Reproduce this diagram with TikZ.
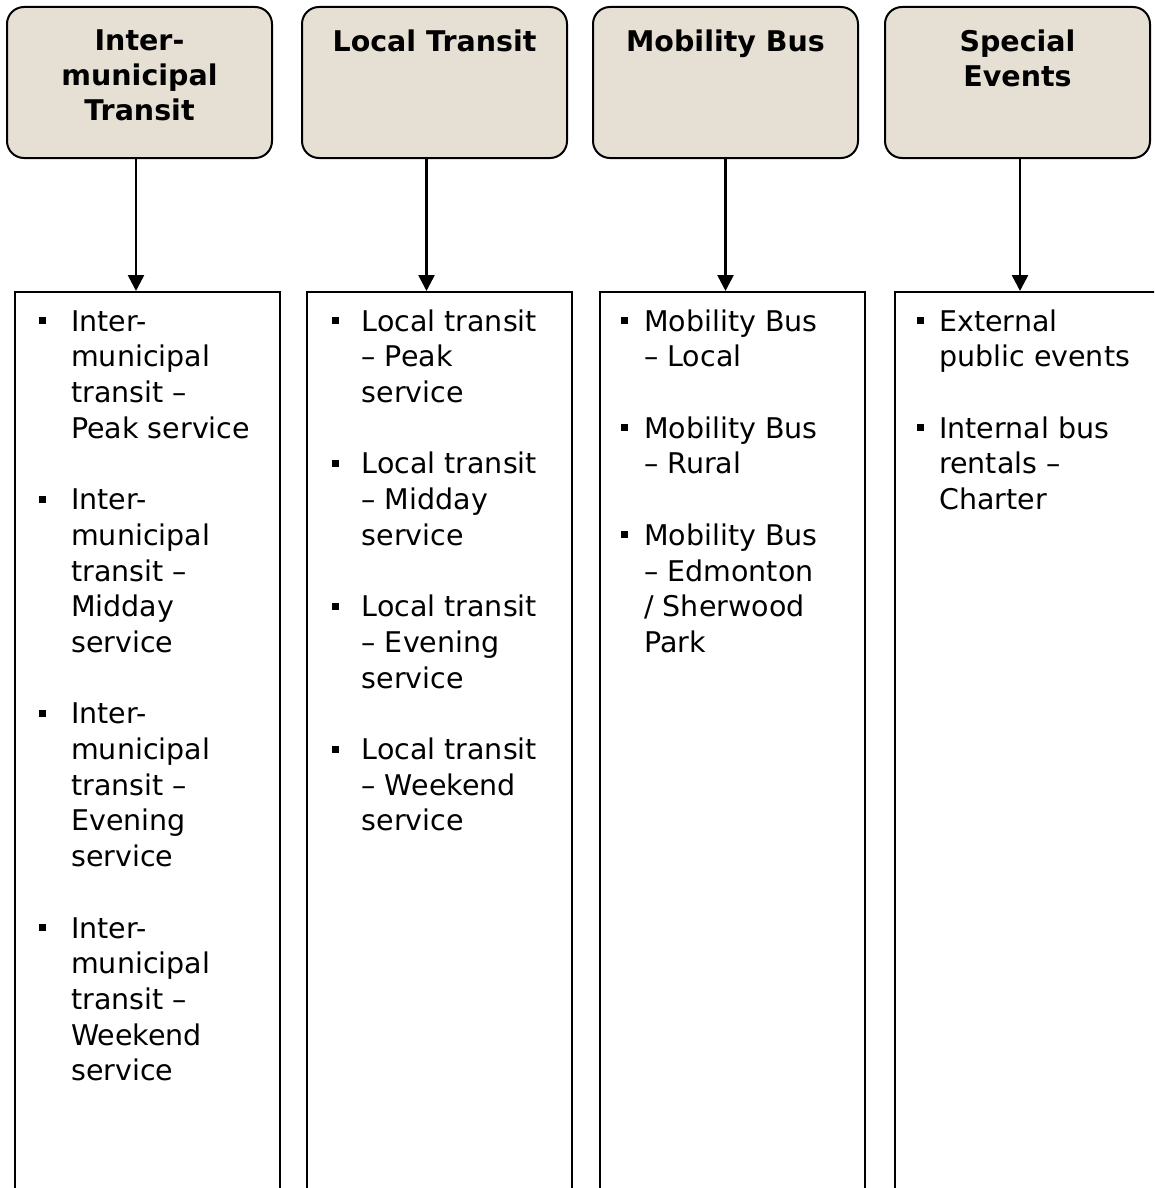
\documentclass[tikz,border=0pt]{standalone}
\usepackage{fontspec}
\setmainfont{DejaVu Sans}
\usetikzlibrary{arrows.meta}
\definecolor{headfill}{RGB}{230,223,212}
\newcommand{\BUL}{\rule[7pt]{7pt}{7pt}}
\newcommand{\HEADBOX}[3]{
  \node[headbox] (#1) at (#2,82.5) {};
  \node[headtext] (#1-txt) at ([yshift=-23.5pt]#1.north) {#3};
}
\newcommand{\LISTBOX}[5]{
  \node[listbox] (#1) at (#2,760) {};
  \node[listtext] (#1-txt) at ([xshift=#3,yshift=-15pt]#1.north west)
    {\begin{tabular}{@{}p{#4}@{}l@{}}#5\end{tabular}};
}

\begin{document}
\begin{tikzpicture}[x=1pt,y=-1pt,
    headbox/.style={draw, line width=2pt, rounded corners=17pt, fill=headfill,
      minimum width=265pt, minimum height=151pt, inner sep=0pt},
    headtext/.style={anchor=north, align=center, inner sep=0pt,
      font=\bfseries\fontsize{28.5}{35}\selectfont},
    listbox/.style={draw, line width=2pt, minimum width=265pt,
      minimum height=936pt, inner sep=0pt},
    listtext/.style={anchor=north west, inner sep=0pt,
      font=\fontsize{28.5}{35.7}\selectfont},
    arr/.style={line width=2.6pt, -{Triangle[width=16pt,length=16pt]}}]
  \useasboundingbox (0,0) rectangle (1154,1188);
  \clip (0,0) rectangle (1154,1188);

  \HEADBOX{h1}{139.5}{Inter-\\municipal\\Transit}
  \HEADBOX{h2}{434.5}{Local Transit}
  \HEADBOX{h3}{725.5}{Mobility Bus}
  \HEADBOX{h4}{1017.5}{Special\\Events}

  \LISTBOX{l1}{147.5}{25pt}{32pt}{
    \BUL & Inter-\\ & municipal\\ & transit –\\ & Peak service\\[35.7pt]
    \BUL & Inter-\\ & municipal\\ & transit –\\ & Midday\\ & service\\[35.7pt]
    \BUL & Inter-\\ & municipal\\ & transit –\\ & Evening\\ & service\\[35.7pt]
    \BUL & Inter-\\ & municipal\\ & transit –\\ & Weekend\\ & service}
  \LISTBOX{l2}{439}{26pt}{30pt}{
    \BUL & Local transit\\ & – Peak\\ & service\\[35.7pt]
    \BUL & Local transit\\ & – Midday\\ & service\\[35.7pt]
    \BUL & Local transit\\ & – Evening\\ & service\\[35.7pt]
    \BUL & Local transit\\ & – Weekend\\ & service}
  \LISTBOX{l3}{732.5}{22pt}{23pt}{
    \BUL & Mobility Bus\\ & – Local\\[35.7pt]
    \BUL & Mobility Bus\\ & – Rural\\[35.7pt]
    \BUL & Mobility Bus\\ & – Edmonton\\ & / Sherwood\\ & Park}
  \LISTBOX{l4}{1027.5}{23pt}{22pt}{
    \BUL & External\\ & public events\\[35.7pt]
    \BUL & Internal bus\\ & rentals –\\ & Charter}

  % arrows from each header down to its list
  \draw[arr] ([xshift=-3.5pt]h1.south) -- ([xshift=-3.5pt]h1.south |- l1.north);
  \draw[arr] ([xshift=-8pt]h2.south) -- ([xshift=-8pt]h2.south |- l2.north);
  \draw[arr] (h3.south) -- (h3.south |- l3.north);
  \draw[arr] ([xshift=2.5pt]h4.south) -- ([xshift=2.5pt]h4.south |- l4.north);
\end{tikzpicture}
\end{document}
